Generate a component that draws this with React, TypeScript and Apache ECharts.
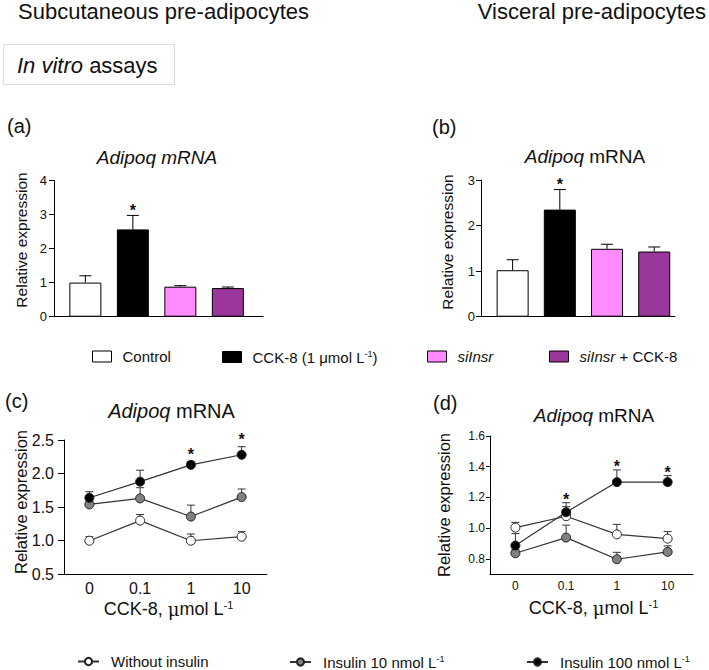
import React, { useEffect, useRef } from "react";
import * as echarts from "echarts";

const FONT = "Liberation Sans, Arial, Helvetica, sans-serif";
const INK = "#111";

// Bar panels (a, b)
const barGroups = ["Control", "CCK-8 (1 μmol L-1)", "siInsr", "siInsr + CCK-8"];
const barColors = ["#ffffff", "#000000", "#ff8cff", "#9b379b"];
const subcutMean = [1.0, 2.56, 0.88, 0.84];
const subcutUpper = [1.2, 2.97, 0.91, 0.87];
const subcutSig = [0, 1, 0, 0];
const visceralMean = [1.02, 2.35, 1.49, 1.43];
const visceralUpper = [1.25, 2.79, 1.59, 1.53];
const visceralSig = [0, 1, 0, 0];

// Line panels (c, d)
const doseLabels = ["0", "0.1", "1", "10"];
const lineGroups = ["Without insulin", "Insulin 10 nmol L-1", "Insulin 100 nmol L-1"];
const lineFill = ["#ffffff", "#808080", "#000000"];
const scWithout = [1.0, 1.3, 1.0, 1.06];
const scWithoutUp = [1.06, 1.39, 1.1, 1.135];
const scIns10 = [1.54, 1.63, 1.36, 1.65];
const scIns10Up = [1.58, 1.79, 1.53, 1.77];
const scIns100 = [1.64, 1.88, 2.13, 2.28];
const scIns100Up = [1.73, 2.05, 2.18, 2.4];
const scIns100Sig = [0, 0, 1, 1];
const viWithout = [1.004, 1.078, 0.96, 0.932];
const viWithoutUp = [1.038, 1.14, 1.025, 0.978];
const viIns10 = [0.837, 0.939, 0.798, 0.846];
const viIns10Up = [0.86, 1.02, 0.843, 0.885];
const viIns100 = [0.887, 1.104, 1.3, 1.3];
const viIns100Up = [0.965, 1.166, 1.379, 1.342];
const viIns100Sig = [0, 1, 1, 1];
const viTicks = [0.8, 1.0, 1.2, 1.4, 1.6];

const richBase = (fs: number) => ({
  it: { fontStyle: "italic", fontSize: fs, fontFamily: FONT, color: INK },
  n: { fontSize: fs, fontFamily: FONT, color: INK },
  sup: { fontSize: Math.round(fs * 0.62), fontFamily: FONT, color: INK, verticalAlign: "top", padding: [0, 0, Math.round(fs * 0.45), 0] },
  mu: { fontSize: fs, fontFamily: "DejaVu Serif, serif", color: INK },
});

function legendLabel(name: string) {
  if (name === "siInsr") return "{it|siInsr}";
  if (name === "siInsr + CCK-8") return "{it|siInsr}{n| + CCK-8}";
  if (name.endsWith("L-1)")) return "{n|" + name.replace(" L-1)", " L") + "}{sup|-1}{n|)}";
  if (name.endsWith("L-1")) return "{n|" + name.replace(" L-1", " L") + "}{sup|-1}";
  return "{n|" + name + "}";
}

function errRender(color: string, capHalf: number, starFs: number, starGap: number) {
  return (params: any, api: any) => {
    const x = api.value(0);
    const m = api.value(1);
    const u = api.value(2);
    const s = api.value(3);
    const p0 = api.coord([x, m]);
    const p1 = api.coord([x, u]);
    const children: any[] = [
      { type: "line", shape: { x1: p0[0], y1: p0[1], x2: p1[0], y2: p1[1] }, style: { stroke: color, lineWidth: 1 } },
      { type: "line", shape: { x1: p1[0] - capHalf, y1: p1[1], x2: p1[0] + capHalf, y2: p1[1] }, style: { stroke: color, lineWidth: 1 } },
    ];
    if (s) {
      children.push({
        type: "text",
        x: p1[0],
        y: p1[1] - starGap,
        style: { text: "*", fontSize: starFs, fontWeight: "bold", fontFamily: FONT, fill: INK, align: "center", verticalAlign: "middle" },
      });
    }
    return { type: "group", children };
  };
}

function errData(mean: number[], upper: number[], sig?: number[]) {
  return mean.map((m, i) => [i, m, upper[i], sig ? sig[i] : 0]);
}

const axisLineStyle = { lineStyle: { color: "#000", width: 1 } };

export default function App() {
  const ref = useRef<HTMLDivElement>(null);
  useEffect(() => {
    document.body.style.margin = "0";
    const chart = echarts.init(ref.current!, undefined, { renderer: "svg" });

    const grids = [
      { left: 54, top: 180.3, width: 209, height: 136.4 },
      { left: 481, top: 180, width: 194, height: 136.7 },
      { left: 64, top: 440, width: 203, height: 134.3 },
      { left: 490, top: 436, width: 203, height: 138.3 },
    ];

    const xAxes: any[] = [
      { type: "value", gridIndex: 0, min: -0.66, max: 3.74, axisLine: { show: true, onZero: false, ...axisLineStyle }, axisTick: { show: false }, axisLabel: { show: false }, splitLine: { show: false } },
      { type: "value", gridIndex: 1, min: -0.67, max: 3.44, axisLine: { show: true, onZero: false, ...axisLineStyle }, axisTick: { show: false }, axisLabel: { show: false }, splitLine: { show: false } },
      { type: "category", gridIndex: 2, data: doseLabels, axisLine: { onZero: false, ...axisLineStyle }, axisTick: { show: false }, axisLabel: { fontSize: 16, fontFamily: FONT, color: INK, margin: 6 } },
      { type: "category", gridIndex: 3, data: doseLabels, axisLine: { onZero: false, ...axisLineStyle }, axisTick: { show: false }, axisLabel: { fontSize: 12, fontFamily: FONT, color: INK, margin: 6 } },
    ];

    const yAxes: any[] = [
      { type: "value", gridIndex: 0, min: 0, max: 4, interval: 1, axisLine: { show: true, onZero: false, ...axisLineStyle }, axisTick: { show: true, length: 5, lineStyle: { color: "#000" } }, axisLabel: { fontSize: 13, fontFamily: FONT, color: INK, margin: 7 }, splitLine: { show: false } },
      { type: "value", gridIndex: 1, min: 0, max: 3, interval: 1, axisLine: { show: true, onZero: false, ...axisLineStyle }, axisTick: { show: true, length: 5, lineStyle: { color: "#000" } }, axisLabel: { fontSize: 13, fontFamily: FONT, color: INK, margin: 6 }, splitLine: { show: false } },
      { type: "value", gridIndex: 2, min: 0.5, max: 2.5, interval: 0.5, axisLine: { show: true, onZero: false, ...axisLineStyle }, axisTick: { show: true, length: 6, lineStyle: { color: "#000" } }, axisLabel: { fontSize: 16, fontFamily: FONT, color: INK, margin: 10, formatter: (v: number) => v.toFixed(1) }, splitLine: { show: false } },
      { type: "value", gridIndex: 3, min: 0.7, max: 1.6, axisLine: { show: true, onZero: false, ...axisLineStyle }, axisTick: { show: true, length: 4, lineStyle: { color: "#000" }, customValues: viTicks }, axisLabel: { fontSize: 12, fontFamily: FONT, color: INK, margin: 5, customValues: viTicks, formatter: (v: number) => v.toFixed(1) }, splitLine: { show: false } },
    ];

    const series: any[] = [];
    const addBars = (idx: number, mean: number[], upper: number[], sig: number[]) => {
      barGroups.forEach((name, i) => {
        series.push({
          type: "bar",
          name,
          xAxisIndex: idx,
          yAxisIndex: idx,
          barWidth: 32,
          barGap: "-100%",
          itemStyle: { color: barColors[i], borderColor: "#000", borderWidth: 1 },
          data: [[i, mean[i]]],
          z: 2,
        });
      });
      series.push({
        type: "custom",
        xAxisIndex: idx,
        yAxisIndex: idx,
        renderItem: errRender("#000", 6, 16, 5),
        data: errData(mean, upper, sig),
        z: 3,
        silent: true,
      });
    };
    addBars(0, subcutMean, subcutUpper, subcutSig);
    addBars(1, visceralMean, visceralUpper, visceralSig);

    const addLines = (idx: number, sets: number[][][], capHalf: number, starGap: number) => {
      sets.forEach(([mean, upper, sig], i) => {
        series.push({
          type: "custom",
          xAxisIndex: idx,
          yAxisIndex: idx,
          renderItem: errRender("#333", capHalf, 16, starGap),
          data: errData(mean, upper, sig),
          z: 1,
          silent: true,
        });
        series.push({
          type: "line",
          name: lineGroups[i],
          xAxisIndex: idx,
          yAxisIndex: idx,
          symbol: "circle",
          symbolSize: 9,
          lineStyle: { color: "#333", width: 1.2 },
          itemStyle: { color: lineFill[i], borderColor: "#222", borderWidth: 1 },
          data: mean,
          z: 2 + i,
        });
      });
    };
    addLines(2, [
      [scWithout, scWithoutUp, []],
      [scIns10, scIns10Up, []],
      [scIns100, scIns100Up, scIns100Sig],
    ] as any, 4, 7);
    addLines(3, [
      [viWithout, viWithoutUp, []],
      [viIns10, viIns10Up, []],
      [viIns100, viIns100Up, viIns100Sig],
    ] as any, 4, 3);

    const barLegendX = [92, 222, 427, 549];
    const lineLegendX = [77, 289, 526];
    const legends: any[] = [
      ...barGroups.map((name, i) => ({
        left: barLegendX[i],
        top: 349,
        padding: 0,
        icon: "rect",
        itemWidth: 19,
        itemHeight: 11,
        selectedMode: false,
        data: [name],
        formatter: legendLabel,
        itemStyle: { borderColor: "#000", borderWidth: 1 },
        textStyle: { fontSize: 15, fontFamily: FONT, color: INK, padding: [0, 0, 0, 6], rich: richBase(15) },
      })),
      ...lineGroups.map((name, i) => ({
        left: lineLegendX[i],
        top: 654,
        padding: 0,
        itemWidth: 21,
        itemHeight: 9,
        selectedMode: false,
        data: [name],
        formatter: legendLabel,
        textStyle: { fontSize: 15, fontFamily: FONT, color: INK, padding: [0, 0, 0, 7], rich: richBase(15) },
      })),
    ];

    const txt = (x: number, y: number, text: string, fs: number, extra: any = {}, rot = 0) => ({
      type: "text",
      x,
      y,
      rotation: rot,
      style: { text, fontSize: fs, fontFamily: FONT, fill: INK, align: "left", verticalAlign: "middle", rich: richBase(fs), ...extra },
    });

    const graphic: any[] = [
      txt(18, 11, "Subcutaneous pre-adipocytes", 22),
      txt(706, 11, "Visceral pre-adipocytes", 22, { align: "right" }),
      { type: "rect", shape: { x: 3.5, y: 44.5, width: 171, height: 40 }, style: { fill: "#fff", stroke: "#dcdcdc", lineWidth: 1 } },
      txt(17, 65, "{it|In vitro}{n| assays}", 22),
      txt(7, 126, "(a)", 20),
      txt(432, 127, "(b)", 20),
      txt(5, 401, "(c)", 20),
      txt(433, 403, "(d)", 20),
      txt(157, 157, "{it|Adipoq mRNA}", 19, { align: "center" }),
      txt(585, 156.5, "{it|Adipoq}{n| mRNA}", 19, { align: "center" }),
      txt(171.5, 410.5, "{it|Adipoq}{n| mRNA}", 20, { align: "center" }),
      txt(594, 415.5, "{it|Adipoq}{n| mRNA}", 19, { align: "center" }),
      txt(21, 240, "Relative expression", 15.5, { align: "center" }, Math.PI / 2),
      txt(447.5, 242, "Relative expression", 15.5, { align: "center" }, Math.PI / 2),
      txt(21, 502, "Relative expression", 16.5, { align: "center" }, Math.PI / 2),
      txt(444, 505, "Relative expression", 16.5, { align: "center" }, Math.PI / 2),
      txt(168.5, 609, "{n|CCK-8, }{mu|μ}{n|mol L}{sup|-1}", 18, { align: "center" }),
      txt(593.5, 608, "{n|CCK-8, }{mu|μ}{n|mol L}{sup|-1}", 18, { align: "center" }),
    ];

    chart.setOption({
      animation: false,
      backgroundColor: "#fff",
      textStyle: { fontFamily: FONT },
      grid: grids,
      xAxis: xAxes,
      yAxis: yAxes,
      legend: legends,
      series,
      graphic,
    });
    return () => chart.dispose();
  }, []);
  return <div ref={ref} style={{ position: "absolute", left: 0, top: 0, width: 709, height: 670, background: "#fff" }} />;
}
